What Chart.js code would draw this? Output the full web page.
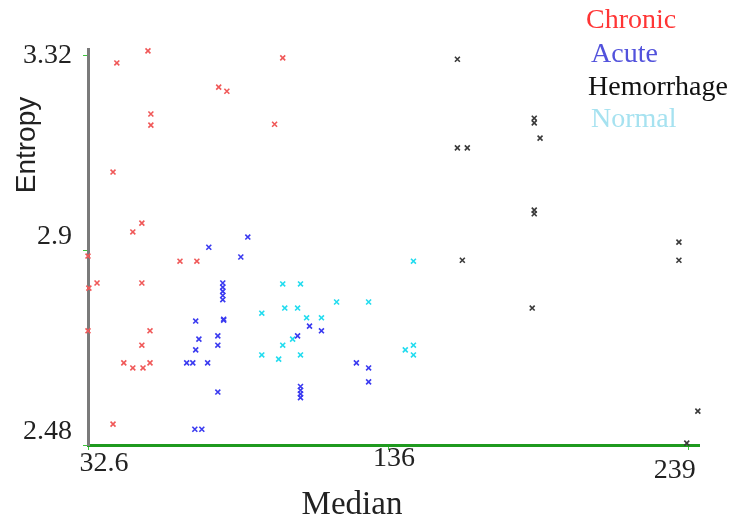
<!DOCTYPE html>
<html>
<head>
<meta charset="utf-8">
<script src="https://cdn.jsdelivr.net/npm/chart.js@4"></script>
<style>
  html, body { margin: 0; padding: 0; background: #fff; }
  canvas { display: block; }
</style>
</head>
<body>
<canvas id="scatterChart" width="734" height="527"></canvas>
<script>
// series values: [median, entropy]
const chronic = [
    [53.2, 3.329], [42.5, 3.303], [99.5, 3.314], [77.5, 3.251], [80.3, 3.242],
    [54.2, 3.193], [54.2, 3.169], [96.7, 3.171], [41.2, 3.068], [51.1, 2.958],
    [48.0, 2.939], [32.6, 2.887], [64.2, 2.876], [70.0, 2.876], [35.7, 2.829],
    [32.9, 2.818], [51.1, 2.829], [32.6, 2.726], [53.9, 2.726], [51.1, 2.695],
    [44.9, 2.657], [48.0, 2.646], [51.5, 2.646], [53.9, 2.657], [41.2, 2.525]
];
const acute = [
    [87.5, 2.928], [74.1, 2.906], [85.1, 2.885], [78.9, 2.829], [78.9, 2.820],
    [78.9, 2.811], [78.9, 2.802], [78.9, 2.793], [69.6, 2.747], [79.2, 2.751],
    [79.2, 2.749], [70.7, 2.708], [77.2, 2.715], [77.2, 2.695], [69.6, 2.685],
    [66.5, 2.657], [68.6, 2.657], [73.7, 2.657], [77.2, 2.594], [69.3, 2.514],
    [71.7, 2.514], [104.6, 2.715], [108.7, 2.736], [112.8, 2.726], [124.8, 2.657],
    [129.0, 2.646], [129.0, 2.616], [105.6, 2.606], [105.6, 2.598], [105.6, 2.590],
    [105.6, 2.582]
];
const hemorrhage = [
    [159.5, 3.311], [185.9, 3.184], [185.9, 3.174], [187.9, 3.141], [159.5, 3.120],
    [162.9, 3.120], [185.9, 2.986], [185.9, 2.978], [235.6, 2.917], [235.6, 2.878],
    [161.2, 2.878], [185.2, 2.775], [242.1, 2.553], [238.3, 2.484]
];
const normal = [
    [144.4, 2.876], [99.5, 2.827], [105.6, 2.827], [118.0, 2.788], [129.0, 2.788],
    [92.3, 2.764], [100.2, 2.775], [104.6, 2.775], [107.7, 2.754], [112.8, 2.754],
    [99.5, 2.695], [102.9, 2.708], [92.3, 2.674], [98.1, 2.665], [105.6, 2.674],
    [141.6, 2.685], [144.4, 2.695], [144.4, 2.674]
];
const seriesNames = ['Chronic', 'Acute', 'Hemorrhage', 'Normal'];
const xTicks = [32.6, 136, 239];
const yTicks = [2.48, 2.9, 3.32];
const xTitle = 'Median';
const yTitle = 'Entropy';

const pointColors = ['#f05858', '#3a3af0', '#3a3a3a', '#22dcef'];
const textColors = ['#ff3535', '#5252dc', '#111111', '#a6e2f0'];

function toPoints(arr) {
    return arr.map(function(p) { return { x: p[0], y: p[1] }; });
}

// draws tick labels, axis titles and the text-only legend
const textPlugin = {
    id: 'textPlugin',
    afterDraw: function(chart) {
        const ctx = chart.ctx;
        const xs = chart.scales.x;
        const ys = chart.scales.y;
        ctx.save();
        ctx.textBaseline = 'middle';
        ctx.font = '28px "Liberation Serif", serif';
        ctx.fillStyle = '#222';

        // y tick labels
        const yShift = [-13, -13, 1];
        ctx.textAlign = 'right';
        ys.ticks.forEach(function(t, i) {
            ctx.fillText(String(t.value), 72, ys.getPixelForValue(t.value) + yShift[i]);
        });

        // x tick labels
        const xShift = [16, 5, -14];
        const xDrop = [19, 14, 26];
        ctx.textAlign = 'center';
        xs.ticks.forEach(function(t, i) {
            ctx.fillText(String(t.value), xs.getPixelForValue(t.value) + xShift[i], xs.top + xDrop[i]);
        });

        // axis titles
        ctx.font = '33px "Liberation Serif", serif';
        ctx.fillText(xTitle, 352, 505);
        ctx.save();
        ctx.translate(27, 145);
        ctx.rotate(-Math.PI / 2);
        ctx.font = '28px "Liberation Sans", Arial, sans-serif';
        ctx.fillText(yTitle, 0, 0);
        ctx.restore();

        // legend
        const lx = [586, 591, 588, 591];
        const ly = [21, 55, 88, 120];
        ctx.font = '28px "Liberation Serif", serif';
        ctx.textAlign = 'left';
        chart.data.datasets.forEach(function(ds, i) {
            ctx.fillStyle = textColors[i];
            ctx.fillText(ds.label, lx[i], ly[i]);
        });
        ctx.restore();
    }
};

const whiteBg = {
    id: 'whiteBg',
    beforeDraw: function(chart) {
        const ctx = chart.ctx;
        ctx.save();
        ctx.fillStyle = '#ffffff';
        ctx.fillRect(0, 0, chart.width, chart.height);
        ctx.restore();
    }
};

const ctx = document.getElementById('scatterChart').getContext('2d');
new Chart(ctx, {
    type: 'scatter',
    data: {
        datasets: [chronic, acute, hemorrhage, normal].map(function(arr, i) {
            return {
                label: seriesNames[i],
                data: toPoints(arr),
                pointStyle: 'crossRot',
                pointRadius: 3.5,
                pointHoverRadius: 3.5,
                pointBorderWidth: 1.6,
                borderColor: pointColors[i],
                backgroundColor: pointColors[i],
                clip: false
            };
        })
    },
    options: {
        responsive: false,
        animation: false,
        layout: {
            padding: { top: 49.5, right: 35, left: 0, bottom: 0 }
        },
        plugins: {
            legend: { display: false },
            tooltip: { enabled: false }
        },
        scales: {
            x: {
                type: 'linear',
                min: 32.6,
                max: 242.5,
                afterBuildTicks: function(scale) {
                    scale.ticks = xTicks.map(function(v) { return { value: v }; });
                },
                afterFit: function(scale) { scale.height = 82; },
                ticks: { display: false },
                grid: {
                    drawOnChartArea: false,
                    drawTicks: true,
                    tickLength: 5,
                    color: '#3cc83c'
                },
                border: { color: '#1f9a1f', width: 3 }
            },
            y: {
                type: 'linear',
                min: 2.48,
                max: 3.332,
                afterBuildTicks: function(scale) {
                    scale.ticks = yTicks.map(function(v) { return { value: v }; });
                },
                afterFit: function(scale) { scale.width = 88; },
                ticks: { display: false },
                grid: {
                    drawOnChartArea: false,
                    drawTicks: true,
                    tickLength: 5,
                    color: '#3cc83c'
                },
                border: { color: '#7a7a7a', width: 3 }
            }
        }
    },
    plugins: [whiteBg, textPlugin]
});
</script>
</body>
</html>
